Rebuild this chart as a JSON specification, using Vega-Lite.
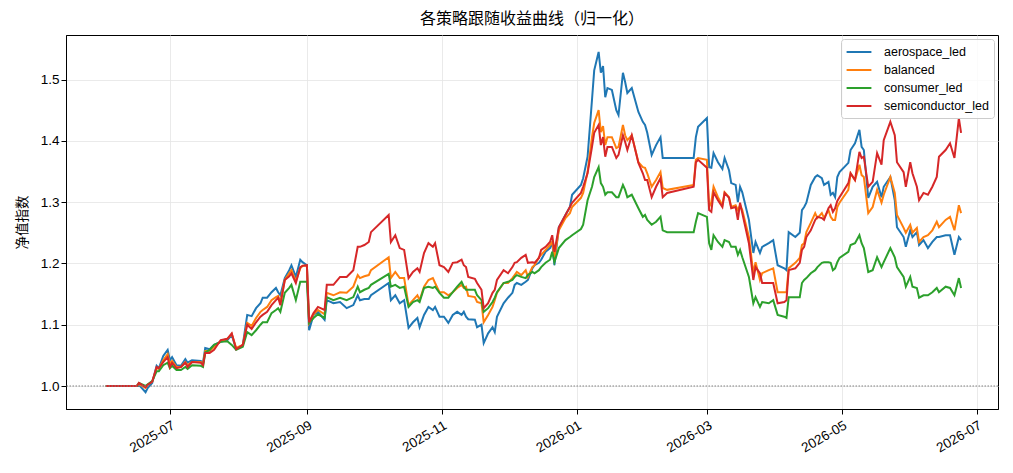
{
  "$schema": "https://vega.github.io/schema/vega-lite/v6.json",
  "width": 932,
  "height": 374,
  "autosize": {"type": "none"},
  "padding": {"left": 66, "top": 35, "right": 15, "bottom": 64},
  "background": "white",
  "title": {
    "text": "各策略跟随收益曲线（归一化）",
    "font": "Noto Sans CJK SC",
    "fontSize": 16,
    "fontWeight": "normal",
    "color": "black",
    "offset": 8
  },
  "layer": [
    {
      "data": {
        "values": [
          {"date": "2025-06-02", "aerospace_led": 1.000, "balanced": 1.000, "consumer_led": 1.000, "semiconductor_led": 1.000},
          {"date": "2025-06-16", "aerospace_led": 1.000, "balanced": 1.000, "consumer_led": 1.000, "semiconductor_led": 1.000},
          {"date": "2025-06-17", "aerospace_led": 1.002, "balanced": 1.003, "consumer_led": 1.005, "semiconductor_led": 1.005},
          {"date": "2025-06-20", "aerospace_led": 0.990, "balanced": 0.997, "consumer_led": 1.000, "semiconductor_led": 0.998},
          {"date": "2025-06-21", "aerospace_led": 0.997, "balanced": 1.002, "consumer_led": 1.003, "semiconductor_led": 1.002},
          {"date": "2025-06-23", "aerospace_led": 1.005, "balanced": 1.007, "consumer_led": 1.008, "semiconductor_led": 1.007},
          {"date": "2025-06-25", "aerospace_led": 1.033, "balanced": 1.029, "consumer_led": 1.024, "semiconductor_led": 1.031},
          {"date": "2025-06-26", "aerospace_led": 1.029, "balanced": 1.028, "consumer_led": 1.024, "semiconductor_led": 1.029},
          {"date": "2025-06-28", "aerospace_led": 1.049, "balanced": 1.042, "consumer_led": 1.034, "semiconductor_led": 1.039},
          {"date": "2025-06-30", "aerospace_led": 1.059, "balanced": 1.052, "consumer_led": 1.038, "semiconductor_led": 1.047},
          {"date": "2025-07-01", "aerospace_led": 1.042, "balanced": 1.036, "consumer_led": 1.029, "semiconductor_led": 1.031},
          {"date": "2025-07-02", "aerospace_led": 1.047, "balanced": 1.041, "consumer_led": 1.033, "semiconductor_led": 1.038},
          {"date": "2025-07-04", "aerospace_led": 1.034, "balanced": 1.031, "consumer_led": 1.026, "semiconductor_led": 1.029},
          {"date": "2025-07-06", "aerospace_led": 1.033, "balanced": 1.031, "consumer_led": 1.026, "semiconductor_led": 1.031},
          {"date": "2025-07-08", "aerospace_led": 1.044, "balanced": 1.039, "consumer_led": 1.031, "semiconductor_led": 1.038},
          {"date": "2025-07-09", "aerospace_led": 1.038, "balanced": 1.034, "consumer_led": 1.028, "semiconductor_led": 1.031},
          {"date": "2025-07-11", "aerospace_led": 1.042, "balanced": 1.039, "consumer_led": 1.034, "semiconductor_led": 1.039},
          {"date": "2025-07-15", "aerospace_led": 1.041, "balanced": 1.039, "consumer_led": 1.033, "semiconductor_led": 1.038},
          {"date": "2025-07-16", "aerospace_led": 1.038, "balanced": 1.036, "consumer_led": 1.031, "semiconductor_led": 1.034},
          {"date": "2025-07-17", "aerospace_led": 1.062, "balanced": 1.057, "consumer_led": 1.055, "semiconductor_led": 1.054},
          {"date": "2025-07-19", "aerospace_led": 1.060, "balanced": 1.057, "consumer_led": 1.059, "semiconductor_led": 1.054},
          {"date": "2025-07-21", "aerospace_led": 1.067, "balanced": 1.064, "consumer_led": 1.067, "semiconductor_led": 1.059},
          {"date": "2025-07-24", "aerospace_led": 1.072, "balanced": 1.073, "consumer_led": 1.072, "semiconductor_led": 1.075},
          {"date": "2025-07-27", "aerospace_led": 1.075, "balanced": 1.077, "consumer_led": 1.073, "semiconductor_led": 1.077},
          {"date": "2025-07-29", "aerospace_led": 1.083, "balanced": 1.085, "consumer_led": 1.067, "semiconductor_led": 1.086},
          {"date": "2025-07-31", "aerospace_led": 1.060, "balanced": 1.062, "consumer_led": 1.059, "semiconductor_led": 1.060},
          {"date": "2025-08-03", "aerospace_led": 1.067, "balanced": 1.067, "consumer_led": 1.064, "semiconductor_led": 1.067},
          {"date": "2025-08-05", "aerospace_led": 1.116, "balanced": 1.103, "consumer_led": 1.088, "semiconductor_led": 1.100},
          {"date": "2025-08-07", "aerospace_led": 1.114, "balanced": 1.098, "consumer_led": 1.083, "semiconductor_led": 1.093},
          {"date": "2025-08-09", "aerospace_led": 1.127, "balanced": 1.111, "consumer_led": 1.091, "semiconductor_led": 1.104},
          {"date": "2025-08-11", "aerospace_led": 1.135, "balanced": 1.121, "consumer_led": 1.100, "semiconductor_led": 1.113},
          {"date": "2025-08-12", "aerospace_led": 1.144, "balanced": 1.124, "consumer_led": 1.104, "semiconductor_led": 1.116},
          {"date": "2025-08-14", "aerospace_led": 1.144, "balanced": 1.129, "consumer_led": 1.104, "semiconductor_led": 1.121},
          {"date": "2025-08-16", "aerospace_led": 1.153, "balanced": 1.140, "consumer_led": 1.119, "semiconductor_led": 1.132},
          {"date": "2025-08-18", "aerospace_led": 1.160, "balanced": 1.145, "consumer_led": 1.124, "semiconductor_led": 1.140},
          {"date": "2025-08-19", "aerospace_led": 1.153, "balanced": 1.147, "consumer_led": 1.127, "semiconductor_led": 1.144},
          {"date": "2025-08-20", "aerospace_led": 1.148, "balanced": 1.137, "consumer_led": 1.121, "semiconductor_led": 1.132},
          {"date": "2025-08-22", "aerospace_led": 1.176, "balanced": 1.173, "consumer_led": 1.152, "semiconductor_led": 1.173},
          {"date": "2025-08-24", "aerospace_led": 1.189, "balanced": 1.184, "consumer_led": 1.160, "semiconductor_led": 1.179},
          {"date": "2025-08-25", "aerospace_led": 1.197, "balanced": 1.189, "consumer_led": 1.165, "semiconductor_led": 1.184},
          {"date": "2025-08-27", "aerospace_led": 1.178, "balanced": 1.171, "consumer_led": 1.140, "semiconductor_led": 1.168},
          {"date": "2025-08-29", "aerospace_led": 1.206, "balanced": 1.192, "consumer_led": 1.170, "semiconductor_led": 1.194},
          {"date": "2025-08-30", "aerospace_led": 1.202, "balanced": 1.196, "consumer_led": 1.170, "semiconductor_led": 1.196},
          {"date": "2025-09-01", "aerospace_led": 1.197, "balanced": 1.196, "consumer_led": 1.170, "semiconductor_led": 1.197},
          {"date": "2025-09-02", "aerospace_led": 1.091, "balanced": 1.103, "consumer_led": 1.103, "semiconductor_led": 1.104},
          {"date": "2025-09-04", "aerospace_led": 1.116, "balanced": 1.117, "consumer_led": 1.111, "semiconductor_led": 1.119},
          {"date": "2025-09-06", "aerospace_led": 1.121, "balanced": 1.124, "consumer_led": 1.117, "semiconductor_led": 1.129},
          {"date": "2025-09-09", "aerospace_led": 1.108, "balanced": 1.117, "consumer_led": 1.111, "semiconductor_led": 1.124},
          {"date": "2025-09-10", "aerospace_led": 1.140, "balanced": 1.152, "consumer_led": 1.145, "semiconductor_led": 1.165},
          {"date": "2025-09-13", "aerospace_led": 1.135, "balanced": 1.148, "consumer_led": 1.140, "semiconductor_led": 1.165},
          {"date": "2025-09-16", "aerospace_led": 1.137, "balanced": 1.153, "consumer_led": 1.144, "semiconductor_led": 1.178},
          {"date": "2025-09-19", "aerospace_led": 1.127, "balanced": 1.152, "consumer_led": 1.140, "semiconductor_led": 1.178},
          {"date": "2025-09-22", "aerospace_led": 1.132, "balanced": 1.162, "consumer_led": 1.145, "semiconductor_led": 1.189},
          {"date": "2025-09-24", "aerospace_led": 1.148, "balanced": 1.181, "consumer_led": 1.162, "semiconductor_led": 1.227},
          {"date": "2025-09-25", "aerospace_led": 1.140, "balanced": 1.176, "consumer_led": 1.153, "semiconductor_led": 1.227},
          {"date": "2025-09-27", "aerospace_led": 1.142, "balanced": 1.179, "consumer_led": 1.157, "semiconductor_led": 1.230},
          {"date": "2025-09-29", "aerospace_led": 1.142, "balanced": 1.181, "consumer_led": 1.160, "semiconductor_led": 1.235},
          {"date": "2025-09-30", "aerospace_led": 1.148, "balanced": 1.189, "consumer_led": 1.165, "semiconductor_led": 1.251},
          {"date": "2025-10-08", "aerospace_led": 1.168, "balanced": 1.210, "consumer_led": 1.183, "semiconductor_led": 1.279},
          {"date": "2025-10-09", "aerospace_led": 1.140, "balanced": 1.176, "consumer_led": 1.162, "semiconductor_led": 1.235},
          {"date": "2025-10-11", "aerospace_led": 1.148, "balanced": 1.186, "consumer_led": 1.165, "semiconductor_led": 1.246},
          {"date": "2025-10-13", "aerospace_led": 1.135, "balanced": 1.176, "consumer_led": 1.160, "semiconductor_led": 1.225},
          {"date": "2025-10-15", "aerospace_led": 1.140, "balanced": 1.176, "consumer_led": 1.162, "semiconductor_led": 1.222},
          {"date": "2025-10-17", "aerospace_led": 1.095, "balanced": 1.132, "consumer_led": 1.129, "semiconductor_led": 1.176},
          {"date": "2025-10-19", "aerospace_led": 1.104, "balanced": 1.140, "consumer_led": 1.137, "semiconductor_led": 1.186},
          {"date": "2025-10-21", "aerospace_led": 1.111, "balanced": 1.148, "consumer_led": 1.140, "semiconductor_led": 1.192},
          {"date": "2025-10-22", "aerospace_led": 1.096, "balanced": 1.140, "consumer_led": 1.137, "semiconductor_led": 1.186},
          {"date": "2025-10-24", "aerospace_led": 1.116, "balanced": 1.162, "consumer_led": 1.160, "semiconductor_led": 1.217},
          {"date": "2025-10-26", "aerospace_led": 1.129, "balanced": 1.173, "consumer_led": 1.162, "semiconductor_led": 1.233},
          {"date": "2025-10-28", "aerospace_led": 1.124, "balanced": 1.176, "consumer_led": 1.160, "semiconductor_led": 1.227},
          {"date": "2025-10-29", "aerospace_led": 1.129, "balanced": 1.168, "consumer_led": 1.162, "semiconductor_led": 1.233},
          {"date": "2025-10-31", "aerospace_led": 1.113, "balanced": 1.153, "consumer_led": 1.152, "semiconductor_led": 1.197},
          {"date": "2025-11-02", "aerospace_led": 1.113, "balanced": 1.153, "consumer_led": 1.144, "semiconductor_led": 1.194},
          {"date": "2025-11-04", "aerospace_led": 1.103, "balanced": 1.148, "consumer_led": 1.144, "semiconductor_led": 1.186},
          {"date": "2025-11-06", "aerospace_led": 1.116, "balanced": 1.153, "consumer_led": 1.153, "semiconductor_led": 1.201},
          {"date": "2025-11-08", "aerospace_led": 1.121, "balanced": 1.160, "consumer_led": 1.162, "semiconductor_led": 1.202},
          {"date": "2025-11-10", "aerospace_led": 1.116, "balanced": 1.165, "consumer_led": 1.170, "semiconductor_led": 1.206},
          {"date": "2025-11-11", "aerospace_led": 1.121, "balanced": 1.160, "consumer_led": 1.162, "semiconductor_led": 1.197},
          {"date": "2025-11-12", "aerospace_led": 1.113, "balanced": 1.162, "consumer_led": 1.157, "semiconductor_led": 1.194},
          {"date": "2025-11-13", "aerospace_led": 1.109, "balanced": 1.147, "consumer_led": 1.157, "semiconductor_led": 1.178},
          {"date": "2025-11-16", "aerospace_led": 1.108, "balanced": 1.145, "consumer_led": 1.157, "semiconductor_led": 1.175},
          {"date": "2025-11-17", "aerospace_led": 1.096, "balanced": 1.137, "consumer_led": 1.148, "semiconductor_led": 1.168},
          {"date": "2025-11-19", "aerospace_led": 1.100, "balanced": 1.135, "consumer_led": 1.140, "semiconductor_led": 1.157},
          {"date": "2025-11-20", "aerospace_led": 1.070, "balanced": 1.104, "consumer_led": 1.121, "semiconductor_led": 1.127},
          {"date": "2025-11-22", "aerospace_led": 1.086, "balanced": 1.116, "consumer_led": 1.127, "semiconductor_led": 1.135},
          {"date": "2025-11-24", "aerospace_led": 1.096, "balanced": 1.129, "consumer_led": 1.137, "semiconductor_led": 1.152},
          {"date": "2025-11-25", "aerospace_led": 1.088, "balanced": 1.140, "consumer_led": 1.144, "semiconductor_led": 1.157},
          {"date": "2025-11-26", "aerospace_led": 1.113, "balanced": 1.152, "consumer_led": 1.153, "semiconductor_led": 1.173},
          {"date": "2025-11-29", "aerospace_led": 1.135, "balanced": 1.168, "consumer_led": 1.168, "semiconductor_led": 1.189},
          {"date": "2025-12-01", "aerospace_led": 1.144, "balanced": 1.168, "consumer_led": 1.170, "semiconductor_led": 1.184},
          {"date": "2025-12-03", "aerospace_led": 1.152, "balanced": 1.176, "consumer_led": 1.173, "semiconductor_led": 1.194},
          {"date": "2025-12-04", "aerospace_led": 1.165, "balanced": 1.181, "consumer_led": 1.178, "semiconductor_led": 1.201},
          {"date": "2025-12-05", "aerospace_led": 1.168, "balanced": 1.186, "consumer_led": 1.181, "semiconductor_led": 1.202},
          {"date": "2025-12-07", "aerospace_led": 1.165, "balanced": 1.181, "consumer_led": 1.178, "semiconductor_led": 1.209},
          {"date": "2025-12-09", "aerospace_led": 1.170, "balanced": 1.189, "consumer_led": 1.176, "semiconductor_led": 1.214},
          {"date": "2025-12-10", "aerospace_led": 1.173, "balanced": 1.178, "consumer_led": 1.181, "semiconductor_led": 1.201},
          {"date": "2025-12-12", "aerospace_led": 1.192, "balanced": 1.194, "consumer_led": 1.186, "semiconductor_led": 1.202},
          {"date": "2025-12-13", "aerospace_led": 1.197, "balanced": 1.197, "consumer_led": 1.184, "semiconductor_led": 1.201},
          {"date": "2025-12-15", "aerospace_led": 1.201, "balanced": 1.210, "consumer_led": 1.189, "semiconductor_led": 1.209},
          {"date": "2025-12-16", "aerospace_led": 1.206, "balanced": 1.214, "consumer_led": 1.194, "semiconductor_led": 1.222},
          {"date": "2025-12-18", "aerospace_led": 1.219, "balanced": 1.222, "consumer_led": 1.201, "semiconductor_led": 1.227},
          {"date": "2025-12-20", "aerospace_led": 1.225, "balanced": 1.230, "consumer_led": 1.206, "semiconductor_led": 1.235},
          {"date": "2025-12-21", "aerospace_led": 1.235, "balanced": 1.235, "consumer_led": 1.219, "semiconductor_led": 1.246},
          {"date": "2025-12-22", "aerospace_led": 1.197, "balanced": 1.210, "consumer_led": 1.202, "semiconductor_led": 1.219},
          {"date": "2025-12-24", "aerospace_led": 1.259, "balanced": 1.254, "consumer_led": 1.225, "semiconductor_led": 1.259},
          {"date": "2025-12-27", "aerospace_led": 1.279, "balanced": 1.274, "consumer_led": 1.238, "semiconductor_led": 1.279},
          {"date": "2025-12-29", "aerospace_led": 1.292, "balanced": 1.282, "consumer_led": 1.243, "semiconductor_led": 1.292},
          {"date": "2025-12-30", "aerospace_led": 1.312, "balanced": 1.292, "consumer_led": 1.246, "semiconductor_led": 1.299},
          {"date": "2026-01-03", "aerospace_led": 1.328, "balanced": 1.307, "consumer_led": 1.256, "semiconductor_led": 1.315},
          {"date": "2026-01-04", "aerospace_led": 1.339, "balanced": 1.315, "consumer_led": 1.263, "semiconductor_led": 1.325},
          {"date": "2026-01-06", "aerospace_led": 1.374, "balanced": 1.349, "consumer_led": 1.303, "semiconductor_led": 1.347},
          {"date": "2026-01-08", "aerospace_led": 1.467, "balanced": 1.406, "consumer_led": 1.325, "semiconductor_led": 1.390},
          {"date": "2026-01-09", "aerospace_led": 1.515, "balanced": 1.429, "consumer_led": 1.341, "semiconductor_led": 1.413},
          {"date": "2026-01-11", "aerospace_led": 1.545, "balanced": 1.450, "consumer_led": 1.357, "semiconductor_led": 1.426},
          {"date": "2026-01-12", "aerospace_led": 1.511, "balanced": 1.414, "consumer_led": 1.331, "semiconductor_led": 1.393},
          {"date": "2026-01-13", "aerospace_led": 1.522, "balanced": 1.424, "consumer_led": 1.325, "semiconductor_led": 1.406},
          {"date": "2026-01-14", "aerospace_led": 1.471, "balanced": 1.393, "consumer_led": 1.312, "semiconductor_led": 1.374},
          {"date": "2026-01-15", "aerospace_led": 1.486, "balanced": 1.406, "consumer_led": 1.316, "semiconductor_led": 1.390},
          {"date": "2026-01-17", "aerospace_led": 1.483, "balanced": 1.406, "consumer_led": 1.316, "semiconductor_led": 1.390},
          {"date": "2026-01-19", "aerospace_led": 1.450, "balanced": 1.388, "consumer_led": 1.308, "semiconductor_led": 1.372},
          {"date": "2026-01-20", "aerospace_led": 1.442, "balanced": 1.390, "consumer_led": 1.308, "semiconductor_led": 1.377},
          {"date": "2026-01-22", "aerospace_led": 1.511, "balanced": 1.426, "consumer_led": 1.328, "semiconductor_led": 1.409},
          {"date": "2026-01-23", "aerospace_led": 1.496, "balanced": 1.409, "consumer_led": 1.320, "semiconductor_led": 1.398},
          {"date": "2026-01-24", "aerospace_led": 1.478, "balanced": 1.401, "consumer_led": 1.308, "semiconductor_led": 1.385},
          {"date": "2026-01-26", "aerospace_led": 1.486, "balanced": 1.409, "consumer_led": 1.312, "semiconductor_led": 1.409},
          {"date": "2026-01-29", "aerospace_led": 1.447, "balanced": 1.365, "consumer_led": 1.290, "semiconductor_led": 1.364},
          {"date": "2026-01-31", "aerospace_led": 1.431, "balanced": 1.357, "consumer_led": 1.276, "semiconductor_led": 1.347},
          {"date": "2026-02-01", "aerospace_led": 1.426, "balanced": 1.356, "consumer_led": 1.279, "semiconductor_led": 1.336},
          {"date": "2026-02-02", "aerospace_led": 1.413, "balanced": 1.347, "consumer_led": 1.271, "semiconductor_led": 1.336},
          {"date": "2026-02-04", "aerospace_led": 1.377, "balanced": 1.325, "consumer_led": 1.263, "semiconductor_led": 1.308},
          {"date": "2026-02-06", "aerospace_led": 1.393, "balanced": 1.336, "consumer_led": 1.268, "semiconductor_led": 1.325},
          {"date": "2026-02-08", "aerospace_led": 1.406, "balanced": 1.349, "consumer_led": 1.276, "semiconductor_led": 1.339},
          {"date": "2026-02-09", "aerospace_led": 1.372, "balanced": 1.323, "consumer_led": 1.254, "semiconductor_led": 1.308},
          {"date": "2026-02-11", "aerospace_led": 1.372, "balanced": 1.320, "consumer_led": 1.251, "semiconductor_led": 1.315},
          {"date": "2026-02-23", "aerospace_led": 1.372, "balanced": 1.328, "consumer_led": 1.251, "semiconductor_led": 1.325},
          {"date": "2026-02-24", "aerospace_led": 1.406, "balanced": 1.369, "consumer_led": 1.268, "semiconductor_led": 1.365},
          {"date": "2026-02-25", "aerospace_led": 1.423, "balanced": 1.372, "consumer_led": 1.282, "semiconductor_led": 1.369},
          {"date": "2026-03-01", "aerospace_led": 1.437, "balanced": 1.369, "consumer_led": 1.276, "semiconductor_led": 1.356},
          {"date": "2026-03-02", "aerospace_led": 1.357, "balanced": 1.292, "consumer_led": 1.233, "semiconductor_led": 1.287},
          {"date": "2026-03-03", "aerospace_led": 1.356, "balanced": 1.300, "consumer_led": 1.222, "semiconductor_led": 1.284},
          {"date": "2026-03-04", "aerospace_led": 1.380, "balanced": 1.325, "consumer_led": 1.246, "semiconductor_led": 1.316},
          {"date": "2026-03-06", "aerospace_led": 1.365, "balanced": 1.308, "consumer_led": 1.235, "semiconductor_led": 1.303},
          {"date": "2026-03-08", "aerospace_led": 1.354, "balanced": 1.295, "consumer_led": 1.227, "semiconductor_led": 1.292},
          {"date": "2026-03-09", "aerospace_led": 1.372, "balanced": 1.316, "consumer_led": 1.238, "semiconductor_led": 1.315},
          {"date": "2026-03-11", "aerospace_led": 1.352, "balanced": 1.308, "consumer_led": 1.235, "semiconductor_led": 1.307},
          {"date": "2026-03-12", "aerospace_led": 1.331, "balanced": 1.292, "consumer_led": 1.227, "semiconductor_led": 1.290},
          {"date": "2026-03-14", "aerospace_led": 1.328, "balanced": 1.295, "consumer_led": 1.227, "semiconductor_led": 1.292},
          {"date": "2026-03-15", "aerospace_led": 1.300, "balanced": 1.287, "consumer_led": 1.214, "semiconductor_led": 1.271},
          {"date": "2026-03-16", "aerospace_led": 1.325, "balanced": 1.295, "consumer_led": 1.222, "semiconductor_led": 1.299},
          {"date": "2026-03-17", "aerospace_led": 1.316, "balanced": 1.287, "consumer_led": 1.210, "semiconductor_led": 1.282},
          {"date": "2026-03-20", "aerospace_led": 1.271, "balanced": 1.243, "consumer_led": 1.178, "semiconductor_led": 1.233},
          {"date": "2026-03-22", "aerospace_led": 1.217, "balanced": 1.184, "consumer_led": 1.135, "semiconductor_led": 1.173},
          {"date": "2026-03-23", "aerospace_led": 1.235, "balanced": 1.202, "consumer_led": 1.145, "semiconductor_led": 1.194},
          {"date": "2026-03-25", "aerospace_led": 1.217, "balanced": 1.173, "consumer_led": 1.129, "semiconductor_led": 1.184},
          {"date": "2026-03-26", "aerospace_led": 1.227, "balanced": 1.184, "consumer_led": 1.137, "semiconductor_led": 1.168},
          {"date": "2026-03-29", "aerospace_led": 1.233, "balanced": 1.189, "consumer_led": 1.135, "semiconductor_led": 1.168},
          {"date": "2026-03-31", "aerospace_led": 1.238, "balanced": 1.192, "consumer_led": 1.140, "semiconductor_led": 1.168},
          {"date": "2026-04-02", "aerospace_led": 1.197, "balanced": 1.153, "consumer_led": 1.116, "semiconductor_led": 1.135},
          {"date": "2026-04-05", "aerospace_led": 1.192, "balanced": 1.153, "consumer_led": 1.113, "semiconductor_led": 1.137},
          {"date": "2026-04-06", "aerospace_led": 1.189, "balanced": 1.153, "consumer_led": 1.111, "semiconductor_led": 1.140},
          {"date": "2026-04-07", "aerospace_led": 1.251, "balanced": 1.192, "consumer_led": 1.145, "semiconductor_led": 1.189},
          {"date": "2026-04-10", "aerospace_led": 1.243, "balanced": 1.201, "consumer_led": 1.145, "semiconductor_led": 1.192},
          {"date": "2026-04-12", "aerospace_led": 1.250, "balanced": 1.209, "consumer_led": 1.145, "semiconductor_led": 1.201},
          {"date": "2026-04-13", "aerospace_led": 1.287, "balanced": 1.230, "consumer_led": 1.168, "semiconductor_led": 1.222},
          {"date": "2026-04-14", "aerospace_led": 1.292, "balanced": 1.233, "consumer_led": 1.173, "semiconductor_led": 1.227},
          {"date": "2026-04-15", "aerospace_led": 1.299, "balanced": 1.251, "consumer_led": 1.176, "semiconductor_led": 1.243},
          {"date": "2026-04-17", "aerospace_led": 1.328, "balanced": 1.266, "consumer_led": 1.184, "semiconductor_led": 1.254},
          {"date": "2026-04-19", "aerospace_led": 1.341, "balanced": 1.282, "consumer_led": 1.189, "semiconductor_led": 1.271},
          {"date": "2026-04-20", "aerospace_led": 1.344, "balanced": 1.274, "consumer_led": 1.194, "semiconductor_led": 1.276},
          {"date": "2026-04-22", "aerospace_led": 1.339, "balanced": 1.282, "consumer_led": 1.201, "semiconductor_led": 1.274},
          {"date": "2026-04-23", "aerospace_led": 1.328, "balanced": 1.274, "consumer_led": 1.202, "semiconductor_led": 1.271},
          {"date": "2026-04-25", "aerospace_led": 1.333, "balanced": 1.287, "consumer_led": 1.202, "semiconductor_led": 1.290},
          {"date": "2026-04-26", "aerospace_led": 1.312, "balanced": 1.276, "consumer_led": 1.201, "semiconductor_led": 1.295},
          {"date": "2026-04-27", "aerospace_led": 1.315, "balanced": 1.271, "consumer_led": 1.189, "semiconductor_led": 1.284},
          {"date": "2026-04-28", "aerospace_led": 1.308, "balanced": 1.271, "consumer_led": 1.192, "semiconductor_led": 1.290},
          {"date": "2026-04-29", "aerospace_led": 1.341, "balanced": 1.292, "consumer_led": 1.202, "semiconductor_led": 1.302},
          {"date": "2026-04-30", "aerospace_led": 1.349, "balanced": 1.299, "consumer_led": 1.209, "semiconductor_led": 1.308},
          {"date": "2026-05-04", "aerospace_led": 1.364, "balanced": 1.320, "consumer_led": 1.219, "semiconductor_led": 1.331},
          {"date": "2026-05-05", "aerospace_led": 1.385, "balanced": 1.347, "consumer_led": 1.230, "semiconductor_led": 1.347},
          {"date": "2026-05-07", "aerospace_led": 1.396, "balanced": 1.336, "consumer_led": 1.233, "semiconductor_led": 1.336},
          {"date": "2026-05-09", "aerospace_led": 1.418, "balanced": 1.361, "consumer_led": 1.246, "semiconductor_led": 1.382},
          {"date": "2026-05-10", "aerospace_led": 1.390, "balanced": 1.344, "consumer_led": 1.233, "semiconductor_led": 1.372},
          {"date": "2026-05-11", "aerospace_led": 1.385, "balanced": 1.341, "consumer_led": 1.225, "semiconductor_led": 1.374},
          {"date": "2026-05-13", "aerospace_led": 1.307, "balanced": 1.282, "consumer_led": 1.186, "semiconductor_led": 1.325},
          {"date": "2026-05-15", "aerospace_led": 1.325, "balanced": 1.292, "consumer_led": 1.189, "semiconductor_led": 1.333},
          {"date": "2026-05-17", "aerospace_led": 1.333, "balanced": 1.320, "consumer_led": 1.210, "semiconductor_led": 1.380},
          {"date": "2026-05-19", "aerospace_led": 1.308, "balanced": 1.299, "consumer_led": 1.194, "semiconductor_led": 1.361},
          {"date": "2026-05-20", "aerospace_led": 1.325, "balanced": 1.312, "consumer_led": 1.202, "semiconductor_led": 1.401},
          {"date": "2026-05-23", "aerospace_led": 1.341, "balanced": 1.341, "consumer_led": 1.225, "semiconductor_led": 1.431},
          {"date": "2026-05-25", "aerospace_led": 1.303, "balanced": 1.315, "consumer_led": 1.210, "semiconductor_led": 1.409},
          {"date": "2026-05-26", "aerospace_led": 1.259, "balanced": 1.279, "consumer_led": 1.194, "semiconductor_led": 1.365},
          {"date": "2026-05-29", "aerospace_led": 1.243, "balanced": 1.258, "consumer_led": 1.178, "semiconductor_led": 1.349},
          {"date": "2026-05-30", "aerospace_led": 1.227, "balanced": 1.250, "consumer_led": 1.162, "semiconductor_led": 1.325},
          {"date": "2026-06-01", "aerospace_led": 1.254, "balanced": 1.263, "consumer_led": 1.178, "semiconductor_led": 1.365},
          {"date": "2026-06-02", "aerospace_led": 1.243, "balanced": 1.250, "consumer_led": 1.162, "semiconductor_led": 1.347},
          {"date": "2026-06-04", "aerospace_led": 1.251, "balanced": 1.258, "consumer_led": 1.160, "semiconductor_led": 1.325},
          {"date": "2026-06-05", "aerospace_led": 1.230, "balanced": 1.235, "consumer_led": 1.144, "semiconductor_led": 1.303},
          {"date": "2026-06-07", "aerospace_led": 1.238, "balanced": 1.243, "consumer_led": 1.148, "semiconductor_led": 1.315},
          {"date": "2026-06-09", "aerospace_led": 1.225, "balanced": 1.246, "consumer_led": 1.148, "semiconductor_led": 1.312},
          {"date": "2026-06-11", "aerospace_led": 1.235, "balanced": 1.254, "consumer_led": 1.153, "semiconductor_led": 1.325},
          {"date": "2026-06-13", "aerospace_led": 1.243, "balanced": 1.268, "consumer_led": 1.160, "semiconductor_led": 1.341},
          {"date": "2026-06-14", "aerospace_led": 1.243, "balanced": 1.259, "consumer_led": 1.153, "semiconductor_led": 1.374},
          {"date": "2026-06-17", "aerospace_led": 1.246, "balanced": 1.271, "consumer_led": 1.162, "semiconductor_led": 1.385},
          {"date": "2026-06-19", "aerospace_led": 1.246, "balanced": 1.276, "consumer_led": 1.160, "semiconductor_led": 1.396},
          {"date": "2026-06-21", "aerospace_led": 1.214, "balanced": 1.254, "consumer_led": 1.148, "semiconductor_led": 1.372},
          {"date": "2026-06-23", "aerospace_led": 1.243, "balanced": 1.295, "consumer_led": 1.176, "semiconductor_led": 1.437},
          {"date": "2026-06-24", "aerospace_led": 1.238, "balanced": 1.282, "consumer_led": 1.160, "semiconductor_led": 1.413}
        ]
      },
      "transform": [
        {"fold": ["aerospace_led", "balanced", "consumer_led", "semiconductor_led"], "as": ["strategy", "value"]}
      ],
      "mark": {"type": "line", "strokeWidth": 2},
      "encoding": {
        "x": {
          "field": "date",
          "type": "temporal",
          "title": null,
          "scale": {"type": "utc", "domain": ["2025-05-15", "2026-07-10T17:00:00Z"]},
          "axis": {
            "labelExpr": "utcFormat(datum.value, '%Y-%m')",
            "values": [
              {"year": 2025, "month": 7, "date": 1, "utc": true},
              {"year": 2025, "month": 9, "date": 1, "utc": true},
              {"year": 2025, "month": 11, "date": 1, "utc": true},
              {"year": 2026, "month": 1, "date": 1, "utc": true},
              {"year": 2026, "month": 3, "date": 1, "utc": true},
              {"year": 2026, "month": 5, "date": 1, "utc": true},
              {"year": 2026, "month": 7, "date": 1, "utc": true}
            ],
            "labelAngle": -30,
            "labelAlign": "right",
            "labelBaseline": "top",
            "labelPadding": 4,
            "labelOverlap": false
          }
        },
        "y": {
          "field": "value",
          "type": "quantitative",
          "title": "净值指数",
          "scale": {"domain": [0.9625, 1.5726], "nice": false, "zero": false},
          "axis": {
            "values": [1.0, 1.1, 1.2, 1.3, 1.4, 1.5],
            "format": ".1f",
            "titleFont": "Noto Sans CJK SC",
            "titleFontSize": 13.5,
            "titleFontWeight": "normal",
            "titlePadding": 11
          }
        },
        "color": {
          "field": "strategy",
          "type": "nominal",
          "scale": {"range": ["#1f77b4", "#ff7f0e", "#2ca02c", "#d62728"]},
          "legend": {
            "title": null,
            "orient": "top-right",
            "offset": 4,
            "symbolType": "M-1.85,0L1.85,0",
            "symbolSize": 180,
            "symbolStrokeWidth": 2,
            "symbolOffset": 5,
            "symbolFillColor": "transparent",
            "labelFontSize": 12.5,
            "labelOffset": 17,
            "rowPadding": 3,
            "padding": 5,
            "strokeColor": "#cccccc",
            "fillColor": "rgba(255,255,255,0.8)",
            "cornerRadius": 3
          }
        }
      }
    },
    {
      "data": {"values": [{"level": 1}]},
      "mark": {"type": "rule", "color": "#808080", "strokeDash": [1.5, 1.5], "strokeWidth": 1},
      "encoding": {"y": {"field": "level", "type": "quantitative"}}
    }
  ],
  "config": {
    "view": {"stroke": "black", "strokeWidth": 1},
    "font": "Liberation Sans",
    "axis": {
      "domainColor": "black",
      "tickColor": "black",
      "tickSize": 5,
      "labelColor": "black",
      "labelFont": "Liberation Sans",
      "labelFontSize": 13.5,
      "titleColor": "black",
      "gridColor": "#e5e5e5",
      "gridWidth": 0.8
    },
    "legend": {
      "labelFont": "Liberation Sans",
      "labelColor": "black"
    }
  }
}
